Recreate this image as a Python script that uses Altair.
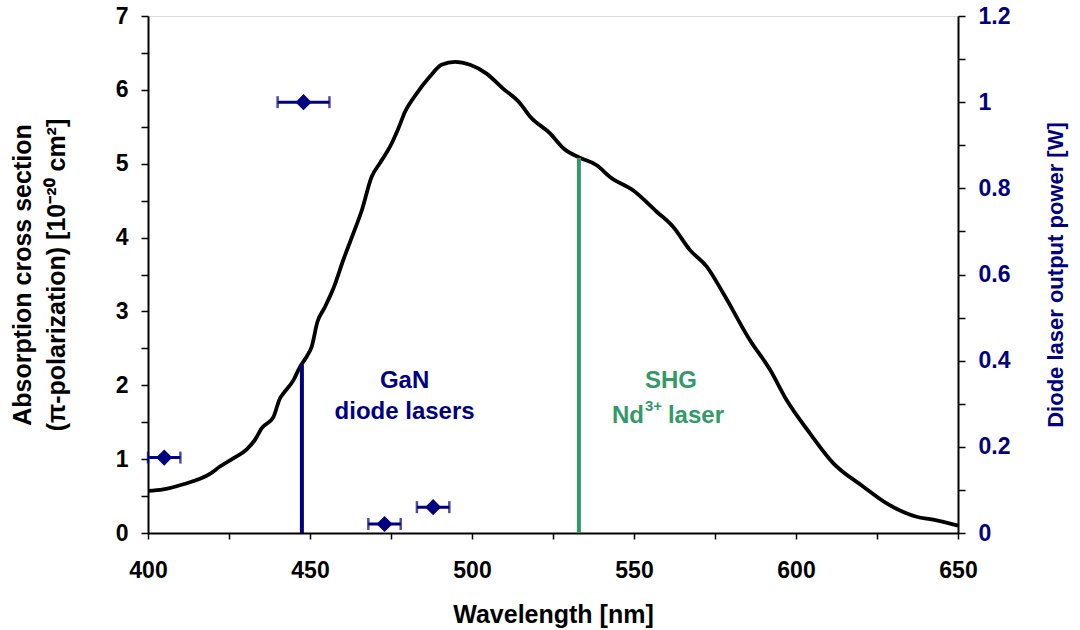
import altair as alt
import pandas as pd

# Absorption curve (left axis, 10^-20 cm^2)
wl = [400, 404.7, 410.9, 419.1, 422.2, 426.3, 430.4, 433, 435.1, 438.7, 440.7, 441.8,
      444.9, 446.9, 449, 450.5, 452.3, 454.5, 457.2, 460.3, 463.4, 466, 469, 471.6,
      474.7, 477.3, 479.3, 482.9, 487, 490.6, 494.8, 499.4, 504.5, 509.5, 514.8,
      517.9, 524.1, 528.2, 533.3, 538.5, 542.6, 549.7, 557, 562, 567.3, 572.4, 577.5,
      585.8, 592, 597.1, 604.3, 611.4, 620.7, 628, 637.2, 642.3, 650]
sigma = [0.57, 0.59, 0.66, 0.80, 0.90, 1.01, 1.13, 1.26, 1.42, 1.57, 1.82, 1.89,
         2.07, 2.25, 2.39, 2.52, 2.86, 3.05, 3.31, 3.70, 4.06, 4.37, 4.82, 5.01,
         5.23, 5.48, 5.70, 5.95, 6.18, 6.34, 6.38, 6.34, 6.22, 6.02, 5.82,
         5.64, 5.41, 5.21, 5.08, 4.98, 4.82, 4.64, 4.35, 4.15, 3.83, 3.61, 3.25,
         2.61, 2.21, 1.80, 1.35, 0.95, 0.63, 0.40, 0.22, 0.18, 0.10]

# Diode lasers (right axis, W)
diode_wl = [405, 448, 473, 488]
diode_power = [0.175, 1.0, 0.021, 0.06]
diode_err = [5, 8, 5, 5]

# Vertical marker lines (left axis units)
line_wl = [447.5, 533]
line_top = [2.28, 5.08]
line_name = ["GaN", "SHG"]

NAVY = "#000080"
GREEN = "#339966"
FONT = "Liberation Sans"

curve_df = pd.DataFrame({"wl": wl, "y": sigma})
diode_df = pd.DataFrame({"wl": diode_wl, "p": diode_power, "err": diode_err})
diode_df["lo"] = diode_df["wl"] - diode_df["err"]
diode_df["hi"] = diode_df["wl"] + diode_df["err"]
lines_df = pd.DataFrame({"wl": line_wl, "top": line_top, "name": line_name, "y0": [0, 0]})

x_ticks = [400 + 25 * i for i in range(11)]
yl_ticks = [0.5 * i for i in range(15)]
yr_ticks = [round(0.1 * i, 1) for i in range(13)]

x_scale = alt.Scale(domain=[400, 650], nice=False, zero=False)
yl_scale = alt.Scale(domain=[0, 7], nice=False)
yr_scale = alt.Scale(domain=[0, 1.2], nice=False)

common = dict(grid=False, labelFont=FONT, titleFont=FONT, labelFontWeight="bold",
              titleFontWeight="bold", domainColor="black", domainWidth=2,
              tickColor="black", tickWidth=1.5, labelFlush=False, labelOverlap=False)

x_axis = alt.Axis(values=x_ticks, labelExpr="datum.value % 50 == 0 ? datum.label : ''",
                  title="Wavelength [nm]", tickSize=6, labelPadding=20,
                  titlePadding=20, labelFontSize=23, titleFontSize=25,
                  labelColor="black", titleColor="black", **common)
yl_axis = alt.Axis(values=yl_ticks,
                   labelExpr="datum.value % 1 == 0 ? format(datum.value, '~g') : ''",
                   title=["Absorption cross section", "(\u03c0-polarization) [10\u207b\u00b2\u2070 cm\u00b2]"],
                   tickSize=7, labelPadding=13, titlePadding=46,
                   labelFontSize=23, titleFontSize=25, orient="left", titleLineHeight=34,
                   labelColor="black", titleColor="black", **common)
yr_axis = alt.Axis(values=yr_ticks,
                   labelExpr="round(datum.value*10) % 2 == 0 ? format(datum.value, '~g') : ''",
                   title="Diode laser output power [W]", tickSize=7,
                   labelPadding=13, titlePadding=58, labelFontSize=23, titleFontSize=22,
                   orient="right", labelColor=NAVY, titleColor=NAVY, titleAngle=270, **common)

X = alt.X("wl:Q", scale=x_scale, axis=x_axis)
YL = alt.Y("y:Q", scale=yl_scale, axis=yl_axis)

curve = alt.Chart(curve_df).mark_line(color="black", strokeWidth=3.8, interpolate="monotone").encode(x=X, y=YL)

vlines = alt.Chart(lines_df).mark_rule(strokeWidth=4).encode(
    x=X,
    y=alt.Y("y0:Q", scale=yl_scale, axis=yl_axis),
    y2="top:Q",
    color=alt.Color("name:N", scale=alt.Scale(domain=["GaN", "SHG"], range=[NAVY, GREEN]), legend=None),
)

def label(text, x, y, color, size=24, align="center", dx=0, dy=0):
    df = pd.DataFrame({"wl": [x], "y": [y], "t": [text]})
    return alt.Chart(df).mark_text(font=FONT, fontWeight="bold", fontSize=size, color=color,
                                   align=align, baseline="middle", dx=dx, dy=dy).encode(
        x=X, y=alt.Y("y:Q", scale=yl_scale, axis=yl_axis), text="t:N")

texts = [
    label("GaN", 479.2, 2.06, NAVY),
    label("diode lasers", 479.2, 1.64, NAVY),
    label("SHG", 561.4, 2.06, GREEN),
    label("Nd", 561.4, 1.58, GREEN, align="right", dx=-27),
    label("3+", 561.4, 1.58, GREEN, size=15, align="left", dx=-26, dy=-10),
    label("laser", 561.4, 1.58, GREEN, align="left", dx=-3),
]

left = alt.layer(curve, vlines, *texts)

YR = alt.Y("p:Q", scale=yr_scale, axis=yr_axis)
err_rule = alt.Chart(diode_df).mark_rule(color=NAVY, strokeWidth=3).encode(
    x=alt.X("lo:Q", scale=x_scale, axis=x_axis), x2="hi:Q", y=YR)
cap_lo = alt.Chart(diode_df).mark_tick(color=NAVY, orient="vertical", size=12, thickness=2.5).encode(
    x=alt.X("lo:Q", scale=x_scale, axis=x_axis), y=YR)
cap_hi = alt.Chart(diode_df).mark_tick(color=NAVY, orient="vertical", size=12, thickness=2.5).encode(
    x=alt.X("hi:Q", scale=x_scale, axis=x_axis), y=YR)
pts = alt.Chart(diode_df).mark_point(shape="diamond", filled=True, size=260, color=NAVY, opacity=1).encode(
    x=alt.X("wl:Q", scale=x_scale, axis=x_axis), y=YR)

right = alt.layer(err_rule, cap_lo, cap_hi, pts)

chart = alt.layer(left, right).resolve_scale(y="independent").properties(
    width=810, height=517,
    autosize="none",
    padding={"left": 148, "top": 16, "right": 122, "bottom": 97},
).configure_view(stroke=None).configure(background="white")

chart.save("out.html", embed_options={"renderer": "svg", "actions": False})
